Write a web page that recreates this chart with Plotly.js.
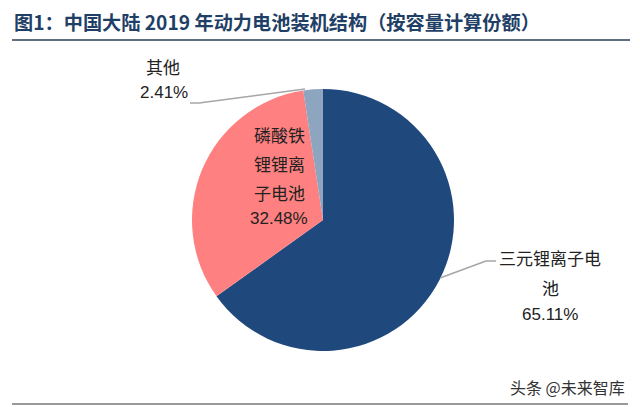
<!DOCTYPE html>
<html><head><meta charset="utf-8">
<script src="https://cdn.plot.ly/plotly-3.0.1.min.js"></script>
<style>html,body{margin:0;padding:0;background:#fff}</style></head>
<body><div id="chart" style="width:640px;height:407px"></div>
<script>
const categories = ["三元锂离子电池", "磷酸铁锂锂离子电池", "其他"];
const values = [65.11, 32.48, 2.41];
const colors = ["#1F497D", "#FF8080", "#8EA5C0"];
const chartTitle = "图1：中国大陆 2019 年动力电池装机结构（按容量计算份额）";
const font = '"Liberation Sans","Noto Sans CJK SC",sans-serif';
const W = 640, H = 407;
const lbl = (x, y, text) => ({xref:"paper", yref:"paper", x:x/W, y:1-y/H, text, showarrow:false,
  xanchor:"center", yanchor:"middle", align:"center", font:{family:font, size:17, color:"#222"}});
const line = (x0,y0,x1,y1,color,width) => ({type:"line", xref:"paper", yref:"paper",
  x0:x0/W, y0:1-y0/H, x1:x1/W, y1:1-y1/H, line:{color, width}});
Plotly.newPlot("chart", [{
  type:"pie", labels:categories, values:values, sort:false, direction:"clockwise", rotation:0,
  marker:{colors:colors, line:{width:0}}, textinfo:"none", showlegend:false, hoverinfo:"label+percent",
  domain:{x:[192/W,454/W], y:[1-351/H,1-89/H]}
}], {
  width:W, height:H, margin:{l:0,r:0,t:0,b:0}, paper_bgcolor:"#fff", showlegend:false,
  title:{text:"<b>"+chartTitle+"</b>", x:14/W, xanchor:"left", y:1-23/H, yanchor:"middle",
    font:{family:'"Noto Sans CJK SC",sans-serif', size:19.2, color:"#1F3F66"}},
  shapes:[
    line(12,40,630,40,"#2B3F55",1.5),
    line(12,404,628,404,"#999",2),
    line(190,103,199,103,"#A6A6A6",1.5),
    line(199,103,305,89,"#A6A6A6",1.5),
    line(440,278,486,261,"#A6A6A6",1.5),
    line(486,261,496,261,"#A6A6A6",1.5)
  ],
  annotations:[
    lbl(163,68,"其他"), lbl(164,93,"2.41%"),
    lbl(279,136,"磷酸铁"), lbl(279,166,"锂锂离"), lbl(279,194,"子电池"), lbl(279,219,"32.48%"),
    lbl(550,259,"三元锂离子电"), lbl(550,289,"池"), lbl(550,314,"65.11%"),
    {xref:"paper",yref:"paper",x:627/W,y:1-387/H,xanchor:"right",yanchor:"middle",showarrow:false,
     text:"头条 @未来智库",font:{family:'"Noto Sans CJK SC"',size:16,color:"#333"}}
  ]
}, {displayModeBar:false, staticPlot:true});
</script></body></html>
